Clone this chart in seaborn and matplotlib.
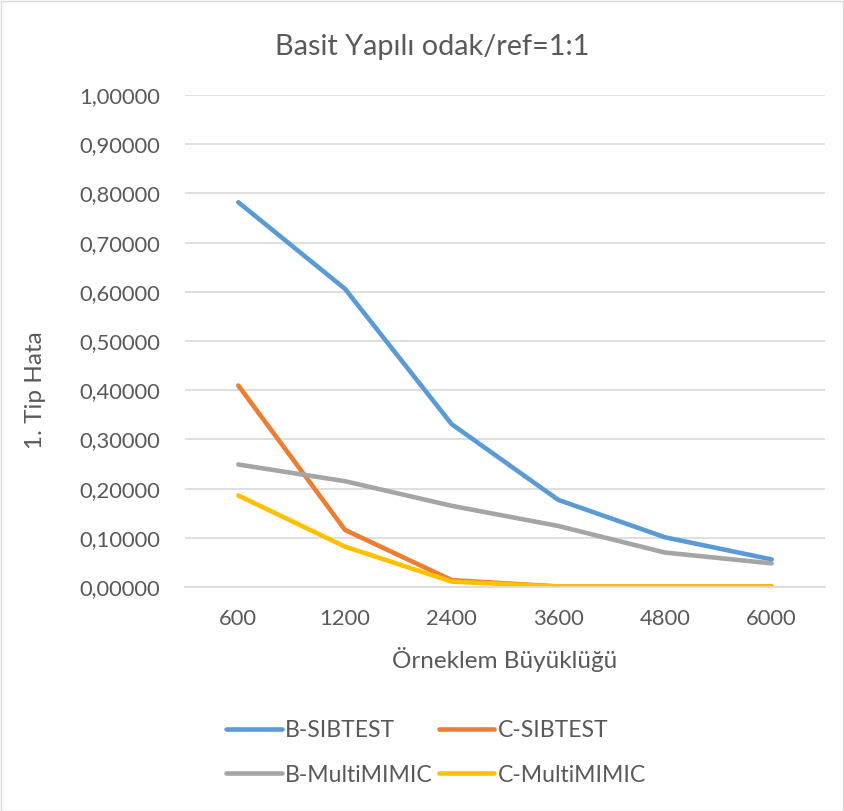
import matplotlib
matplotlib.use("Agg")
import matplotlib.pyplot as plt
import seaborn as sns
import pandas as pd
from matplotlib.ticker import FuncFormatter
from matplotlib.lines import Line2D

sizes = ["600", "1200", "2400", "3600", "4800", "6000"]
b_sibtest = [0.782, 0.606, 0.331, 0.177, 0.101, 0.056]
c_sibtest = [0.4095, 0.116, 0.014, 0.001, 0.001, 0.001]
b_multimimic = [0.249, 0.215, 0.165, 0.124, 0.070, 0.048]
c_multimimic = [0.186, 0.082, 0.011, 0.001, 0.001, 0.001]
series_names = ["B-SIBTEST", "C-SIBTEST", "B-MultiMIMIC", "C-MultiMIMIC"]
colors = ["#5B9BD5", "#ED7D31", "#A5A5A5", "#FFC000"]
yticks = [0.0, 0.1, 0.2, 0.3, 0.4, 0.5, 0.6, 0.7, 0.8, 0.9, 1.0]

rows = []
for name, vals in zip(series_names, [b_sibtest, c_sibtest, b_multimimic, c_multimimic]):
    for s, v in zip(sizes, vals):
        rows.append({"Örneklem Büyüklüğü": s, "1. Tip Hata": v, "Seri": name})
df = pd.DataFrame(rows)

sns.set_theme(style="white")
plt.rcParams["font.family"] = ["Lato", "DejaVu Sans"]
text_color = "#595959"

fig = plt.figure(figsize=(8.44, 8.11), dpi=100)
ax = fig.add_axes([185 / 844, 1 - 587 / 811, 640 / 844, 492 / 811])

sns.lineplot(data=df, x="Örneklem Büyüklüğü", y="1. Tip Hata", hue="Seri",
             hue_order=series_names, palette=colors, linewidth=3.3,
             sort=False, ax=ax, legend=False)
for line in ax.lines:
    line.set_solid_capstyle("round")
    line.set_solid_joinstyle("round")

ax.set_xlim(-0.5, len(sizes) - 0.5)
ax.set_ylim(0, 1.0)
ax.set_yticks(yticks)
ax.yaxis.set_major_formatter(FuncFormatter(lambda v, p: f"{v:.5f}".replace(".", ",")))
ax.grid(axis="y", color="#D9D9D9", linewidth=1.2)
ax.grid(axis="x", visible=False)
ax.set_axisbelow(True)
for sp in ax.spines.values():
    sp.set_visible(False)
ax.spines["bottom"].set_visible(True)
ax.spines["bottom"].set_color("#D9D9D9")
ax.spines["bottom"].set_linewidth(1.2)
ax.tick_params(axis="both", length=0, labelsize=15.8, colors=text_color)
ax.tick_params(axis="x", pad=16)
ax.tick_params(axis="y", pad=18)
ax.set_xlabel("")
ax.set_ylabel("")
fig.text(432 / 844, 1 - 47 / 811, "Basit Yapılı odak/ref=1:1", fontsize=20.8,
         color=text_color, ha="center", va="center")
fig.text(505 / 844, 1 - 660 / 811, "Örneklem Büyüklüğü", fontsize=17.5,
         color=text_color, ha="center", va="center")
fig.text(36 / 844, 1 - 390 / 811, "1. Tip Hata", fontsize=17.5, rotation=90,
         color=text_color, ha="center", va="center")

handles = [Line2D([0], [0], color=c, linewidth=3.3, solid_capstyle="round") for c in colors]
order = [0, 2, 1, 3]
fig.legend([handles[i] for i in order], [series_names[i] for i in order],
           ncol=2, loc="center", bbox_to_anchor=(436 / 844, 1 - 753 / 811),
           frameon=False, fontsize=16.6, handlelength=2.4, handletextpad=0.15,
           columnspacing=0.25, labelspacing=1.0, labelcolor=text_color)

border = plt.Rectangle((0.5 / 844, 0.5 / 811), 1 - 1.5 / 844, 1 - 1.5 / 811,
                       transform=fig.transFigure, fill=False, edgecolor="#D9D9D9",
                       linewidth=1.0)
fig.patches.append(border)

fig.savefig("out.png", dpi=100)
